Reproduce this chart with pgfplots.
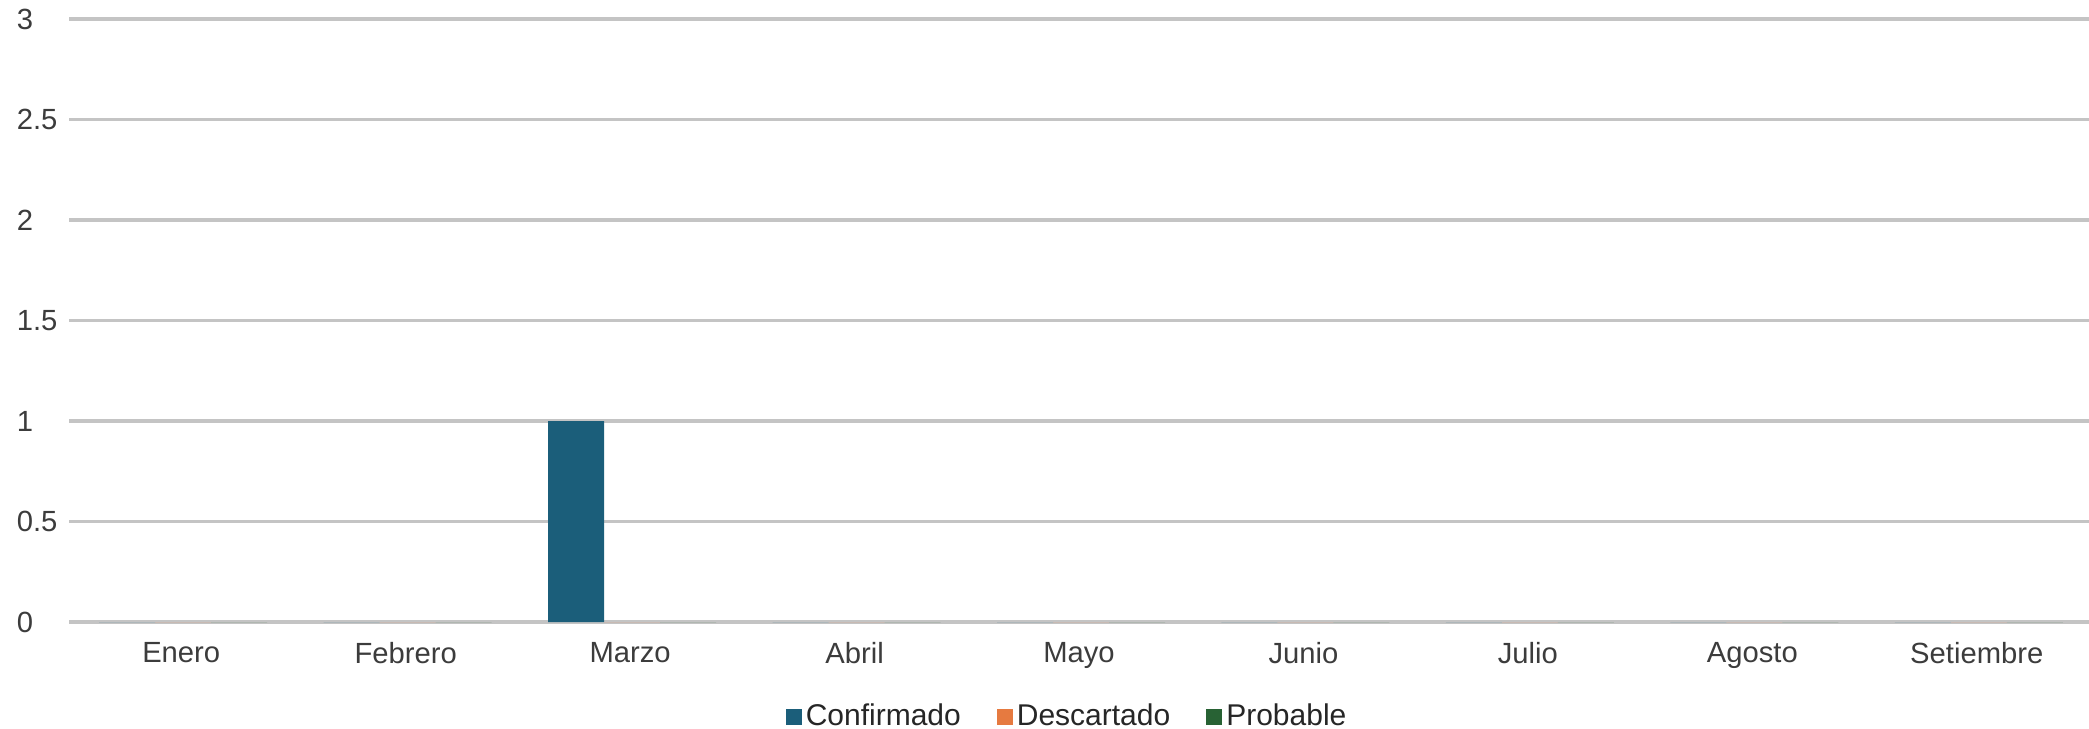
\documentclass[border=0pt]{standalone}
\usepackage{fontspec}
\setmainfont{Liberation Sans}
\usepackage{pgfplots}
\pgfplotsset{compat=1.18}
\definecolor{conf}{RGB}{27,94,122}
\definecolor{desc}{RGB}{230,122,64}
\definecolor{prob}{RGB}{40,98,52}
\definecolor{gridc}{RGB}{196,196,196}
\definecolor{tickc}{RGB}{60,60,60}
\pgfplotsset{sqleg/.style={legend image code/.code={\fill[##1] (0pt,-2pt) rectangle (4pt,2pt);}}}
\begin{document}
\begin{tikzpicture}
\begin{axis}[
  scale only axis,
  width=505pt, height=150.75pt,
  xmin=-0.5, xmax=8.5, ymin=0, ymax=3,
  xtick={0,1,2,3,4,5,6,7,8},
  xticklabels={Enero,Febrero,Marzo,Abril,Mayo,Junio,Julio,Agosto,Setiembre},
  ytick={0,0.5,1,1.5,2,2.5,3},
  yticklabels={0,0.5,1,1.5,2,2.5,3},
  ymajorgrids,
  grid style={gridc, line width=0.8pt},
  axis line style={draw=none},
  major tick length=0pt,
  tick label style={font=\fontsize{7.3}{8}\selectfont, text=tickc},
  yticklabel style={anchor=west, inner sep=0pt, xshift=-13.25pt},
  xticklabel style={anchor=north, inner sep=0pt, yshift=-5pt},
  legend style={at={(0.4946,-0.158)}, anchor=center, draw=none, fill=none,
    font=\fontsize{7.5}{8}\selectfont, text=black!85,
    legend columns=3,
    /tikz/every even column/.append style={column sep=8pt},
    nodes={inner sep=1pt}},
  ybar, bar width=14pt,
]
\addplot[fill=conf, draw=none, bar shift=-13.5pt, sqleg] coordinates {(0,0) (1,0) (2,1) (3,0) (4,0) (5,0) (6,0) (7,0) (8,0)};
\addplot[fill=desc, draw=none, bar shift=0.5pt, sqleg] coordinates {(0,0) (1,0) (2,0) (3,0) (4,0) (5,0) (6,0) (7,0) (8,0)};
\addplot[fill=prob, draw=none, bar shift=14.5pt, sqleg] coordinates {(0,0) (1,0) (2,0) (3,0) (4,0) (5,0) (6,0) (7,0) (8,0)};
\legend{Confirmado,Descartado,Probable}
\end{axis}
\pgfresetboundingbox
\useasboundingbox ([xshift=-17.25pt,yshift=-26.5pt]current axis.south west) rectangle ([yshift=4.75pt]current axis.north east);
\end{tikzpicture}
\end{document}
